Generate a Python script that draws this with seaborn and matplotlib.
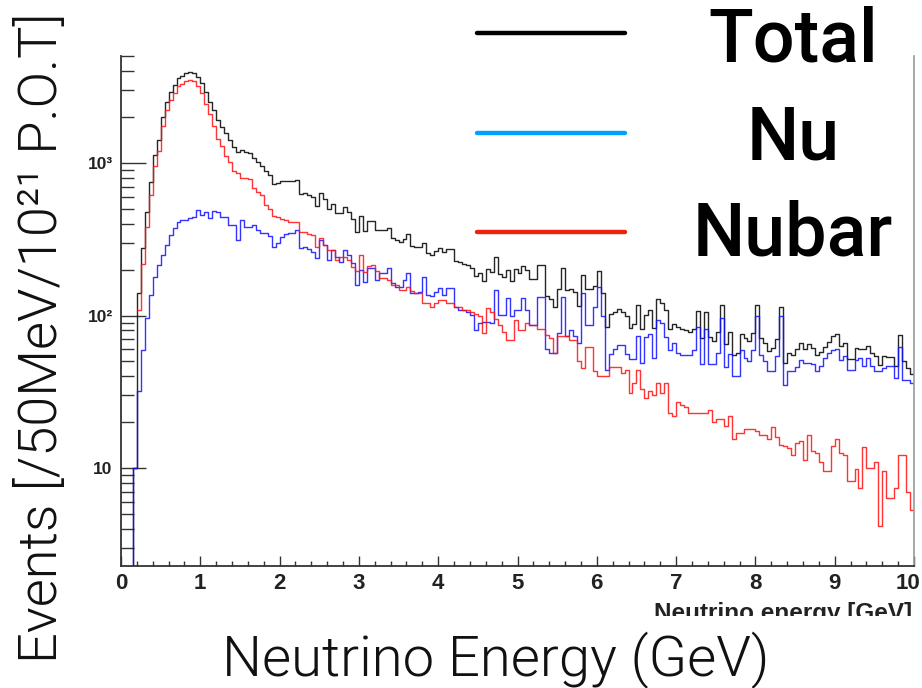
import numpy as np
import pandas as pd
import matplotlib
matplotlib.use("Agg")
import matplotlib.pyplot as plt
import seaborn as sns
from matplotlib.lines import Line2D
from matplotlib.ticker import LogLocator, NullFormatter, MultipleLocator
from matplotlib.transforms import Bbox, TransformedBbox, ScaledTranslation

# 50 MeV bins, 0 - 10 GeV
bin_edges = np.linspace(0.0, 10.0, 201)

# events per bin
nu_events = [
    0, 0, 0, 10, 32, 59, 96, 136, 179, 214,
    249, 290, 337, 375, 413, 423, 423, 434, 445, 492,
    456, 479, 436, 484, 479, 445, 445, 392, 392, 313,
    423, 380, 382, 390, 364, 346, 350, 330, 283, 300,
    328, 340, 348, 350, 364, 277, 280, 275, 262, 238,
    313, 290, 231, 269, 243, 225, 269, 250, 221, 159,
    199, 167, 205, 205, 171, 190, 190, 205, 164, 155,
    155, 171, 190, 141, 141, 143, 180, 136, 134, 143,
    151, 136, 151, 151, 114, 109, 109, 105, 101, 80,
    89, 91, 91, 89, 147, 101, 101, 130, 100, 109,
    109, 130, 109, 87, 87, 133, 133, 60, 57, 57,
    77, 133, 73, 80, 73, 66, 140, 87, 87, 114,
    155, 100, 44, 56, 60, 64, 64, 56, 52, 52,
    73, 49, 72, 76, 53, 93, 90, 72, 59, 66,
    57, 55, 55, 55, 59, 84, 48, 82, 48, 48,
    57, 96, 46, 56, 40, 40, 59, 53, 50, 59,
    100, 55, 50, 43, 43, 54, 100, 35, 43, 43,
    46, 51, 49, 49, 48, 43, 47, 53, 57, 59,
    60, 51, 54, 44, 44, 51, 53, 47, 53, 47,
    43, 43, 45, 47, 47, 39, 62, 38, 38, 36,
]
nubar_events = [
    np.nan, np.nan, np.nan, np.nan, 109, 218, 381, 618, 949, 1201,
    1761, 2235, 2593, 2875, 3182, 3317, 3452, 3496, 3430, 3188,
    2874, 2451, 2089, 1746, 1436, 1285, 1120, 1023, 888, 860,
    800, 797, 780, 685, 648, 617, 530, 500, 450, 440,
    430, 423, 413, 413, 413, 354, 354, 345, 337, 283,
    322, 290, 269, 269, 230, 243, 243, 230, 209, 195,
    250, 193, 210, 214, 195, 176, 176, 170, 159, 159,
    147, 147, 155, 145, 140, 140, 120, 120, 114, 120,
    126, 126, 121, 121, 114, 114, 109, 109, 105, 102,
    100, 77, 112, 105, 95, 87, 78, 69, 69, 93,
    80, 80, 90, 87, 87, 82, 82, 75, 71, 57,
    73, 73, 73, 69, 69, 50, 45, 62, 62, 43,
    40, 40, 40, 46, 46, 46, 42, 44, 31, 36,
    44, 33, 29, 32, 30, 36, 31, 36, 23, 22,
    27, 26, 25, 23, 23, 23, 23, 23, 24, 20,
    21, 21, 19, 22, 15.5, 17, 17, 18, 18, 18,
    17.5, 16.4, 16.4, 15.5, 18.7, 16, 14.1, 14, 13.5, 12.2,
    14.5, 15, 11.3, 16.4, 13, 12.5, 11, 9.6, 9.6, 14,
    15.6, 12.5, 12.2, 8.2, 8.2, 9.8, 7.4, 13.7, 10, 10,
    11, 4.2, 9.5, 6.4, 6.4, 7.4, 12.2, 12.2, 7, 5.3,
]
total_events = np.nansum([nu_events, nubar_events], axis=0)

series = {"Total": total_events, "Nu": nu_events, "Nubar": nubar_events}
colors = {"Total": "#000000", "Nu": "#1010ff", "Nubar": "#ff1010"}

frames = []
for name, vals in series.items():
    vals = list(vals)
    frames.append(pd.DataFrame({"energy": bin_edges,
                                "events": vals + [vals[-1]],
                                "sample": name}))
df = pd.concat(frames, ignore_index=True)

sns.set_theme(style="ticks")
plt.rcParams["font.family"] = ["Roboto", "DejaVu Sans"]

W, H = 922, 688
fig = plt.figure(figsize=(W / 100, H / 100), dpi=100)
ax = fig.add_axes([121 / W, 1 - 566 / H, 793 / W, 510 / H])

sns.lineplot(data=df, x="energy", y="events", hue="sample",
             hue_order=["Total", "Nu", "Nubar"], palette=colors,
             estimator=None, drawstyle="steps-post", linewidth=1.0,
             alpha=0.85, legend=False, ax=ax)

ax.set_yscale("log")
ax.set_xlim(0, 10)
ax.set_ylim(2.28, 5030)
ax.set_xlabel("")
ax.set_ylabel("")

tick_font = dict(family="Liberation Sans", fontweight="bold", color="#222222")
ax.set_xticks(range(11), [str(i) for i in range(11)], fontsize=16, **tick_font)
ax.xaxis.set_minor_locator(MultipleLocator(0.2))
ax.set_yticks([10, 100, 1000], ["10", "10\u00b2", "10\u00b3"], fontsize=12.5, **tick_font)
ax.yaxis.set_minor_locator(LogLocator(base=10, subs=np.arange(2, 10)))
ax.yaxis.set_minor_formatter(NullFormatter())

ax.tick_params(axis="x", which="major", direction="in", length=7, width=1, pad=5, color="#333333")
ax.tick_params(axis="x", which="minor", direction="in", length=3.5, width=1, color="#333333")
ax.tick_params(axis="y", which="major", direction="in", length=18, width=1, pad=6, color="#333333")
ax.tick_params(axis="y", which="minor", direction="in", length=9, width=1, color="#333333")

# keep the last x label inside the canvas
last = ax.get_xticklabels()[-1]
last.set_transform(last.get_transform() + ScaledTranslation(-6 / 100, 0, fig.dpi_scale_trans))

for side in ["left", "bottom"]:
    ax.spines[side].set_color("#333333")
    ax.spines[side].set_linewidth(1.3)
ax.spines["right"].set_color("#999999")
ax.spines["right"].set_linewidth(1.2)
ax.spines["top"].set_visible(False)

# old axis title, cut off at the bottom
cut = fig.text(912 / W, 1 - 602 / H, "Neutrino energy [GeV]", ha="right", va="top",
               fontsize=17.5, **tick_font)
cut.set_clip_box(TransformedBbox(Bbox.from_extents(0, 1 - 616 / H, 1, 1), fig.transFigure))
cut.set_clip_on(True)

# big axis titles
fig.text(42 / W, 1 - 338 / H, "Events [/50MeV/10\u00b2\u00b9 P.O.T]", rotation=90,
         ha="center", va="center", fontsize=39, fontweight=300, color="#111111")
fig.text(496 / W, 1 - 676 / H, "Neutrino Energy (GeV)", ha="center", va="baseline",
         fontsize=40.5, fontweight=300, color="#111111")

# legend drawn by hand at the top right
legend_rows = [("Total", "#000000", 33, 62),
               ("Nu", "#00a2ff", 133, 160),
               ("Nubar", "#ee2211", 232, 255)]
for label, col, ly, base in legend_rows:
    fig.add_artist(Line2D([477 / W, 625 / W], [1 - ly / H] * 2, color=col,
                          linewidth=3.2, transform=fig.transFigure))
    fig.text(793 / W, 1 - base / H, label, ha="center", va="baseline",
             fontsize=53, fontweight=500, color="#000000")

fig.savefig("out.png", dpi=100)
plt.close(fig)
